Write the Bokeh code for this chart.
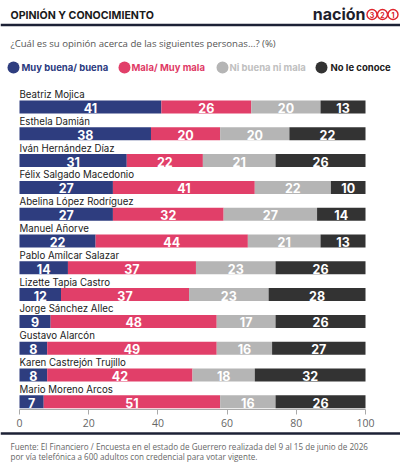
import numpy as np
from bokeh.plotting import figure
from bokeh.models import Range1d, Span, FixedTicker, ColumnDataSource
from bokeh.layouts import column
from bokeh.core.properties import value
from bokeh.embed import file_html
from bokeh.resources import INLINE

# ---------------- data ----------------
names = ["Beatriz Mojica", "Esthela Damián", "Iván Hernández Díaz",
         "Félix Salgado Macedonio", "Abelina López Rodríguez", "Manuel Añorve",
         "Pablo Amílcar Salazar", "Lizette Tapia Castro", "Jorge Sánchez Allec",
         "Gustavo Alarcón", "Karen Castrejón Trujillo", "Mario Moreno Arcos"]
muy_buena = [41, 38, 31, 27, 27, 22, 14, 12, 9, 8, 8, 7]
mala = [26, 20, 22, 41, 32, 44, 37, 37, 48, 49, 42, 51]
ni_buena = [20, 20, 21, 22, 27, 21, 23, 23, 17, 16, 18, 16]
no_conoce = [13, 22, 26, 10, 14, 13, 26, 28, 26, 27, 32, 26]
series_labels = ["Muy buena/ buena", "Mala/ Muy mala", "Ni buena ni mala", "No le conoce"]
series_colors = ["#2e3d7f", "#e13f69", "#b5b5b5", "#333333"]
legend_text_colors = ["#2b3a80", "#e03a66", "#c0c0c0", "#1a1a1a"]
x_ticks = [0, 20, 40, 60, 80, 100]

title_text = "OPINIÓN Y CONOCIMIENTO"
subtitle_text = "¿Cuál es su opinión acerca de las siguientes personas...? (%)"
logo_word = "nación"
logo_digits = ["3", "2", "1"]
source_lines = ["Fuente: El Financiero / Encuesta en el estado de Guerrero realizada del 9 al 15 de junio de 2026",
                "por vía telefónica a 600 adultos con credencial para votar vigente."]

FONT = "Inter"
W = 400
H_MAIN = 431
H_FOOT = 33
BORDER_BOTTOM = 22

# pixel geometry helpers (canvas pixels -> data units)
X_PX0 = 19.0      # canvas x of value 0
X_SCALE = 3.46    # px per unit
ROW0 = 106.5      # canvas y of first row centre
PITCH = 26.8      # px per row
frame_h = H_MAIN - BORDER_BOTTOM

def dx(px):
    return (px - X_PX0) / X_SCALE

def dy(py):
    return (py - ROW0) / PITCH

x_start = -X_PX0 / X_SCALE
x_end = (W - X_PX0) / X_SCALE
y_top = -ROW0 / PITCH
y_bot = (frame_h - ROW0) / PITCH

p = figure(width=W, height=H_MAIN, title=None,
           x_range=Range1d(x_start, x_end), y_range=Range1d(y_bot, y_top),
           output_backend="svg", toolbar_location=None,
           y_axis_location=None, x_axis_location="below",
           min_border_left=0, min_border_right=0, min_border_top=0,
           min_border_bottom=BORDER_BOTTOM)
p.outline_line_color = None
p.xgrid.visible = False
p.ygrid.visible = False
p.background_fill_color = "white"

rows = np.arange(len(names))
series = [muy_buena, mala, ni_buena, no_conoce]
left = np.zeros(len(names))
for vals, col in zip(series, series_colors):
    vals = np.array(vals, dtype=float)
    right = left + vals
    src = ColumnDataSource(dict(y=rows, left=left, right=right,
                                mid=(left + right) / 2, lab=[str(int(v)) for v in vals]))
    p.hbar(y="y", left="left", right="right", height=0.485, source=src,
           fill_color=col, line_color=None)
    p.text(x="mid", y="y", text="lab", source=src, text_font=value(FONT),
           text_font_size="12.5px", text_font_style="bold", text_color="white",
           text_align="center", text_baseline="middle", y_offset=1)
    left = right

# person names above each bar
p.text(x=[0] * len(names), y=rows - 0.465, text=names, text_font=value(FONT),
       text_font_size="9.7px", text_color="#222222", text_align="left",
       text_baseline="middle")

# header
p.text(x=[dx(10)], y=[dy(15)], text=[title_text], text_font=value(FONT),
       text_font_size="10.6px", text_font_style="bold", text_color="#1a1a1a",
       text_align="left", text_baseline="middle")
p.add_layout(Span(location=dy(24.5), dimension="width", line_color="#1c2135", line_width=2.5))

p.text(x=[dx(365)], y=[dy(13)], text=[logo_word], text_font=value(FONT),
       text_font_size="16px", text_font_style="bold", text_color="#1e1e2c",
       text_align="right", text_baseline="middle")
logo_x = [dx(371.5), dx(382), dx(392.5)]
p.scatter(x=logo_x, y=[dy(14)] * 3, size=10, marker="circle", fill_color="white",
          line_color="#e0242c", line_width=1.4)
p.text(x=logo_x, y=[dy(14.3)] * 3, text=logo_digits, text_font=value(FONT),
       text_font_size="7px", text_font_style="bold", text_color="#d8202a",
       text_align="center", text_baseline="middle")

p.text(x=[dx(10)], y=[dy(43)], text=[subtitle_text], text_font=value("Open Sans"),
       text_font_size="9.6px", text_color="#555555", text_align="left",
       text_baseline="middle")

# legend
leg_cx = [13, 124, 222, 321]
leg_tx = [21, 131, 229, 330]
p.scatter(x=[dx(c) for c in leg_cx], y=[dy(67)] * 4, size=12, marker="circle",
          fill_color=series_colors, line_color=None)
p.text(x=[dx(t) for t in leg_tx], y=[dy(67)] * 4, text=series_labels,
       text_font=value(FONT), text_font_size="9.5px", text_font_style="bold",
       text_color=legend_text_colors, text_align="left", text_baseline="middle")

# x axis
ax = p.xaxis[0]
ax.bounds = (0, 100)
ax.ticker = FixedTicker(ticks=x_ticks)
ax.minor_tick_line_color = None
ax.major_tick_in = 0
ax.major_tick_out = 5
ax.axis_line_color = "#aaaaaa"
ax.major_tick_line_color = "#aaaaaa"
ax.major_label_text_color = "#666666"
ax.major_label_text_font = "Open Sans"
ax.major_label_text_font_size = "10.5px"
ax.major_label_standoff = 4

# footer
f = figure(width=W, height=H_FOOT, title=None, x_range=Range1d(0, W),
           y_range=Range1d(H_FOOT, 0), output_backend="svg", toolbar_location=None,
           x_axis_location=None, y_axis_location=None,
           min_border_left=0, min_border_right=0, min_border_top=0, min_border_bottom=0)
f.outline_line_color = None
f.grid.visible = False
f.add_layout(Span(location=2, dimension="width", line_color="#1c2135", line_width=2.5))
f.text(x=[10, 10], y=[14.5, 25], text=source_lines, text_font=value("Open Sans"),
       text_font_size="8.1px", text_color="#666666", text_align="left",
       text_baseline="middle")

layout = column(p, f, spacing=0)
open("out.html", "w").write(file_html(layout, INLINE))
